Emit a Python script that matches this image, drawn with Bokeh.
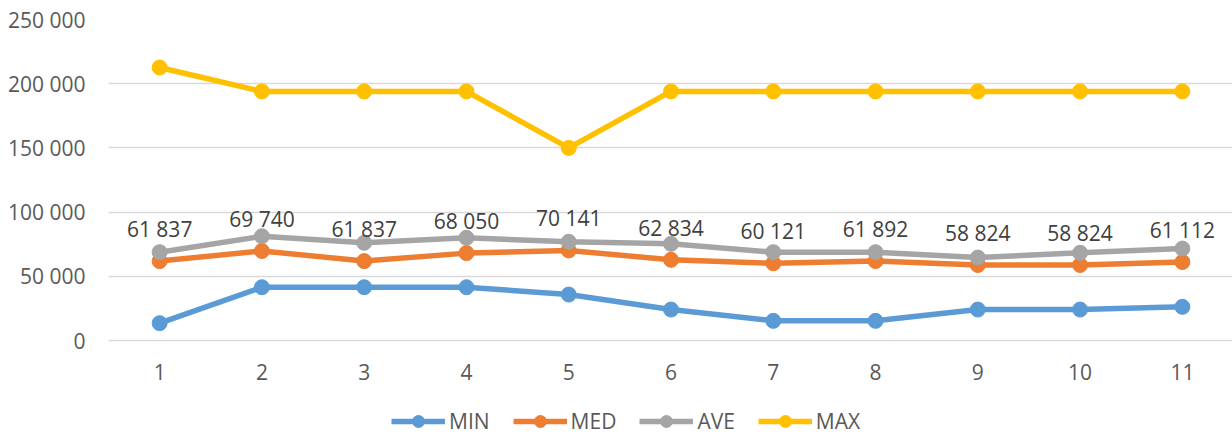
from bokeh.plotting import figure
from bokeh.models import (ColumnDataSource, FixedTicker, Range1d, Legend, LegendItem,
                          CustomJSTickFormatter)
from bokeh.core.properties import value
from bokeh.embed import file_html
from bokeh.resources import INLINE

# ---- data ----
categories = [1, 2, 3, 4, 5, 6, 7, 8, 9, 10, 11]
x_labels = ["1", "2", "3", "4", "5", "6", "7", "8", "9", "10", "11"]
min_vals = [13500, 41500, 41500, 41500, 35800, 24100, 15300, 15300, 24100, 24100, 26200]
med_vals = [61837, 69740, 61837, 68050, 70141, 62834, 60121, 61892, 58824, 58824, 61112]
ave_vals = [68800, 81200, 76100, 80000, 76900, 75300, 68800, 68800, 64600, 68300, 71600]
max_vals = [212600, 194000, 194000, 194000, 150000, 194000, 194000, 194000, 194000, 194000, 194000]
y_ticks = [0, 50000, 100000, 150000, 200000, 250000]
series_names = ["MIN", "MED", "AVE", "MAX"]
series_colors = ["#5B9BD5", "#ED7D31", "#A5A5A5", "#FFC000"]

FONT = "Open Sans"

# plot frame spans from the top gridline down to the bottom edge so that the
# x labels and the legend can sit below the zero line inside it
Y_BOTTOM = -250000 * 96 / 321
p = figure(width=1232, height=436, output_backend="svg", toolbar_location=None,
           x_range=Range1d(0.5, 11.49), y_range=Range1d(Y_BOTTOM, 250000),
           min_border_left=108, min_border_right=0, min_border_top=19,
           min_border_bottom=0)
p.outline_line_color = None
p.background_fill_color = "white"
p.xaxis.visible = False

# y axis
p.yaxis.ticker = FixedTicker(ticks=y_ticks)
p.yaxis.formatter = CustomJSTickFormatter(code="return tick.toLocaleString('en-US').replace(/,/g, ' ');")
p.yaxis.axis_line_color = None
p.yaxis.major_tick_line_color = None
p.yaxis.minor_tick_line_color = None
p.yaxis.major_tick_in = 0
p.yaxis.major_tick_out = 0
p.yaxis.major_label_text_font = FONT
p.yaxis.major_label_text_font_size = "21px"
p.yaxis.major_label_text_color = "#595959"
p.yaxis.major_label_standoff = 23

p.xgrid.grid_line_color = None
p.ygrid.ticker = FixedTicker(ticks=y_ticks)
p.ygrid.grid_line_color = "#D9D9D9"
p.ygrid.grid_line_width = 1.3

src = ColumnDataSource(dict(x=categories, xl=x_labels, MIN=min_vals, MED=med_vals,
                            AVE=ave_vals, MAX=max_vals,
                            lab=[f"{v:,}".replace(",", " ") for v in med_vals]))

# category labels under the zero line
p.text("x", 0, text="xl", source=src, y_offset=31, text_align="center",
       text_baseline="middle", text_font=value(FONT), text_font_size="21px",
       text_color="#595959")

items = []
for name, col in zip(series_names, series_colors):
    l = p.line("x", name, source=src, line_color=col, line_width=5.5)
    s = p.scatter("x", name, source=src, size=15, fill_color=col, line_color=col)
    items.append(LegendItem(label=name, renderers=[l, s]))

p.text("x", "MED", text="lab", source=src, y_offset=-32, text_align="center",
       text_baseline="middle", text_font=value(FONT), text_font_size="21px",
       text_color="#404040")

legend = Legend(items=items, orientation="horizontal", location=(283, 0),
                border_line_color=None, background_fill_alpha=0,
                padding=0, margin=0, spacing=23, glyph_width=54, glyph_height=30,
                label_standoff=4, label_text_font=FONT, label_text_font_size="21px",
                label_text_color="#595959", label_height=30)
p.add_layout(legend, "center")

open("out.html", "w").write(file_html(p, INLINE))
